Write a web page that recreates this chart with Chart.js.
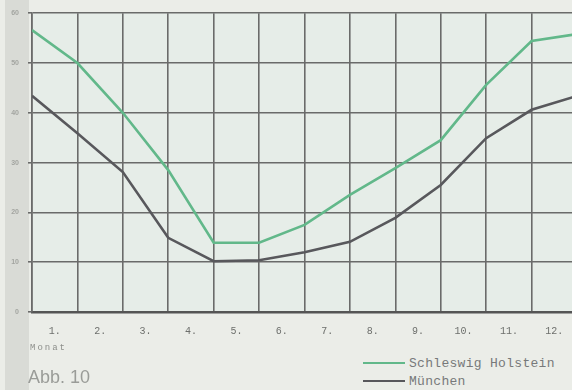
<!DOCTYPE html>
<html>
<head>
<meta charset="utf-8">
<script src="https://cdn.jsdelivr.net/npm/chart.js@4"></script>
<style>
    html, body { margin: 0; padding: 0; }
    body { width: 572px; height: 390px; overflow: hidden; position: relative; background: #ebede8; }
    #strip { position: absolute; left: 5px; top: 0; width: 24px; height: 390px; background: #d9dbd6; }
    #wrap { position: absolute; left: 0; top: 0; width: 590px; height: 344px; }
    .note { position: absolute; color: #8c8e8a; font-family: "Liberation Mono", "DejaVu Sans Mono", monospace; }
    #monat { left: 30px; top: 343px; font-size: 9px; letter-spacing: 2px; }
    #abb { left: 28px; top: 367px; font-family: "Liberation Sans", Arial, sans-serif; font-size: 18px; color: #9a9c98; }
    #legend { position: absolute; left: 363px; top: 354px; }
    .item { display: flex; align-items: center; height: 18px; }
    .swatch { width: 42px; height: 2px; margin-right: 4px; }
    .item span { font-family: "Liberation Mono", "DejaVu Sans Mono", monospace; font-size: 13px; color: #77797a; letter-spacing: 0.3px; }
</style>
</head>
<body>
<div id="strip"></div>
<div id="wrap"><canvas id="chart"></canvas></div>
<div id="monat" class="note">Monat</div>
<div id="abb" class="note">Abb. 10</div>
<div id="legend"></div>
<script>
// month labels, one per column
const months = ["1.", "2.", "3.", "4.", "5.", "6.", "7.", "8.", "9.", "10.", "11.", "12."];
// values at the month boundaries 0..12
const schleswigHolstein = [56.6, 50.0, 40.0, 28.5, 13.9, 13.9, 17.5, 23.5, 28.9, 34.5, 45.6, 54.4, 55.8];
const muenchen = [43.4, 35.9, 28.1, 14.9, 10.2, 10.4, 12.0, 14.1, 18.9, 25.5, 34.9, 40.6, 43.4];
const yTicks = [0, 10, 20, 30, 40, 50, 60];

const seriesNames = ["Schleswig Holstein", "München"];
const seriesColors = ["rgb(98, 184, 138)", "rgb(88, 88, 92)"];

function toPoints(values) {
    return values.map(function (v, i) { return { x: i, y: v }; });
}

// light paper tint behind the grid
const plotBackground = {
    id: "plotBackground",
    beforeDraw: function (chart) {
        const a = chart.chartArea;
        const ctx = chart.ctx;
        ctx.save();
        ctx.fillStyle = "#e6ede8";
        ctx.fillRect(a.left, a.top, a.right - a.left, a.bottom - a.top);
        ctx.restore();
    }
};

const ctx = document.getElementById("chart").getContext("2d");
new Chart(ctx, {
    type: "line",
    data: {
        datasets: [
            {
                label: seriesNames[0],
                data: toPoints(schleswigHolstein),
                borderColor: seriesColors[0],
                borderWidth: 2.6,
                pointRadius: 0,
                tension: 0
            },
            {
                label: seriesNames[1],
                data: toPoints(muenchen),
                borderColor: seriesColors[1],
                borderWidth: 2.6,
                pointRadius: 0,
                tension: 0
            }
        ]
    },
    options: {
        responsive: true,
        maintainAspectRatio: false,
        animation: false,
        layout: { padding: { top: 13, right: 12, left: 0, bottom: 0 } },
        plugins: {
            legend: { display: false },
            tooltip: { enabled: false }
        },
        scales: {
            x: {
                type: "linear",
                min: 0,
                max: months.length,
                afterFit: function (s) { s.height = 32; },
                ticks: {
                    stepSize: 1,
                    labelOffset: 22.75,
                    padding: 13,
                    color: "#6d6f6c",
                    font: { family: "Liberation Mono", size: 10 },
                    maxRotation: 0,
                    autoSkip: false,
                    callback: function (v) { return months[v] || ""; }
                },
                grid: { color: "#6a6b6a", lineWidth: 1.6, drawTicks: false },
                border: { color: "#555", width: 2.4 }
            },
            y: {
                min: yTicks[0],
                max: yTicks[yTicks.length - 1],
                afterFit: function (s) { s.width = 32; },
                afterBuildTicks: function (s) { s.ticks = yTicks.map(function (v) { return { value: v }; }); },
                ticks: {
                    padding: 9,
                    color: "#a3a5a1",
                    font: { family: "Liberation Sans", size: 7, weight: "bold" }
                },
                grid: { color: "#6a6b6a", lineWidth: 1.6, tickLength: 4 },
                border: { color: "#6a6b6a", width: 1.6 }
            }
        }
    },
    plugins: [plotBackground]
});

// legend under the plot, built from the series names and colours
const legend = document.getElementById("legend");
seriesNames.forEach(function (name, i) {
    const item = document.createElement("div");
    item.className = "item";
    item.innerHTML = '<div class="swatch" style="background:' + seriesColors[i] + '"></div><span>' + name + '</span>';
    legend.appendChild(item);
});
</script>
</body>
</html>
